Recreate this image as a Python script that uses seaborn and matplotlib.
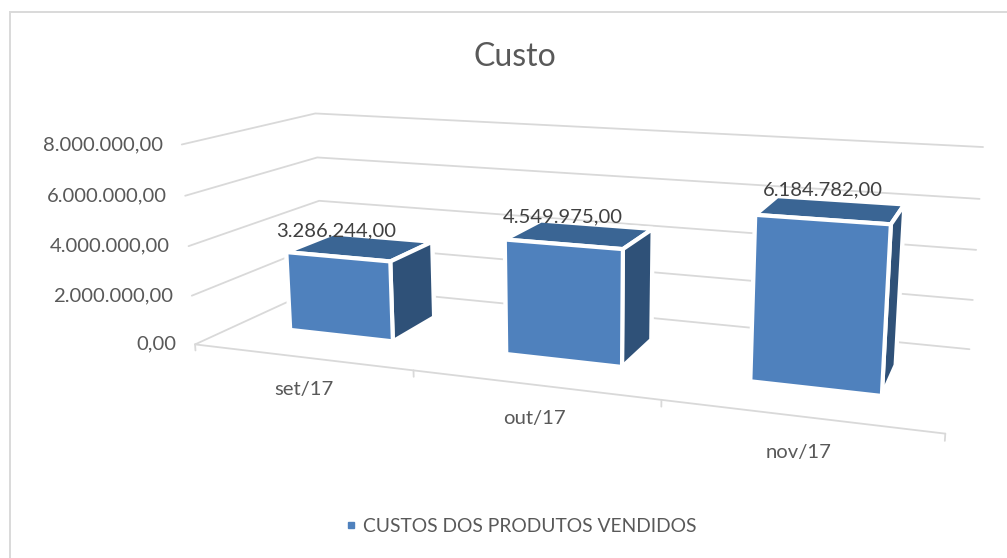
# -*- coding: utf-8 -*-
import numpy as np
import pandas as pd
import seaborn as sns
import matplotlib.pyplot as plt
from matplotlib.lines import Line2D
from matplotlib.patches import Rectangle

# dados
meses = ['set/17', 'out/17', 'nov/17']
custos = [3286244.00, 4549975.00, 6184782.00]
rotulos = ['3.286.244,00', '4.549.975,00', '6.184.782,00']
niveis = [0, 2000000, 4000000, 6000000, 8000000]
niveis_txt = ['0,00', '2.000.000,00', '4.000.000,00', '6.000.000,00', '8.000.000,00']
serie = 'CUSTOS DOS PRODUTOS VENDIDOS'
titulo = 'Custo'

df = pd.DataFrame({'mes': meses, 'custo': custos, 'rotulo': rotulos})

sns.set_theme(style='white')
plt.rcParams['font.family'] = ['Lato', 'DejaVu Sans']

cinza = '#595959'
grade = '#D9D9D9'
frente, topo, lado = '#4F81BD', '#3A6594', '#2F5178'

fig = plt.figure(figsize=(10.07, 5.58), dpi=100)
fig.patch.set_facecolor('white')

# moldura do grafico
fig.add_artist(Rectangle((10 / 1007, -0.02), 1000 / 1007, 1 - 12 / 558 + 0.02, transform=fig.transFigure,
                         fill=False, edgecolor=grade, linewidth=1.4))

# eixos 3D quadrados, maiores que a figura
lado_px = 1007
cx, cy = 580, 248
pos = [(cx - lado_px * 0.5135) / 1007, (558 - cy - lado_px * 0.5135) / 558, lado_px / 1007, lado_px / 558]
ax = fig.add_axes(pos, projection='3d')
ax.set_box_aspect((705, 240, 195), zoom=0.785)
ax.set_proj_type('persp', focal_length=0.25)
ax.view_init(elev=13, azim=-70, roll=0)
ax.set_xlim(0, 3, view_margin=0)
ax.set_ylim(0, 1, view_margin=0)
ax.set_zlim(0, 8000000, view_margin=0)
ax.set_xticks([])
ax.set_yticks([])
ax.set_zticks([])
ax.set_axis_off()
ax.patch.set_alpha(0)
ax.computed_zorder = False

# grade nas paredes
for n in niveis:
    ax.plot([0, 0, 3], [0, 1, 1], [n, n, n], color=grade, lw=1.3, zorder=1)
ax.plot([0, 3], [0, 0], [0, 0], color=grade, lw=1.3, zorder=1)
for i in range(4):
    ax.plot([i, i], [0, 0], [0, -250000], color=grade, lw=1.3, zorder=1)

# barras
largura, y0, prof = 0.49, 0.31, 0.38
for i, linha in df.iterrows():
    ax.bar3d(i + 0.5 - largura / 2, y0, 0, largura, prof, linha['custo'], shade=False,
             color=[frente, topo, frente, frente, lado, lado], edgecolor='white', linewidth=3, zorder=2 + i)
    ax.text(i + 0.5, y0, linha['custo'] + 1050000, linha['rotulo'], ha='center', va='center',
            fontsize=14.6, color='#404040', zorder=6)

# rotulos dos eixos
for n, t in zip(niveis, niveis_txt):
    ax.text(-0.09, 0, n - 70000, t, ha='right', va='center', fontsize=14.6, color=cinza, zorder=6)
for i, m in enumerate(meses):
    ax.text(i + 0.505, 0, -1300000, m, ha='center', va='center', fontsize=14.6, color=cinza, zorder=6)

fig.text(515 / 1007, 1 - 57 / 558, titulo, ha='center', va='center', fontsize=23, color=cinza)

# legenda
fig.legend(handles=[Line2D([], [], ls='none', marker='s', ms=5, color=frente, label=serie)],
           loc='center', bbox_to_anchor=(521 / 1007, 1 - 526 / 558), frameon=False,
           fontsize=13.9, labelcolor=cinza, handlelength=0.6, handletextpad=0.3)

fig.savefig('out.png', dpi=100)
